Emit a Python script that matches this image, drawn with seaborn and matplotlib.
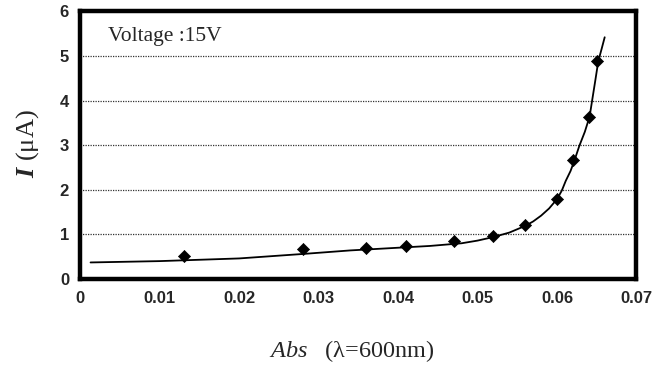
import matplotlib.pyplot as plt
import pandas as pd
import seaborn as sns

# measured points
abs_pts = [0.013, 0.028, 0.036, 0.041, 0.047, 0.052, 0.056, 0.060, 0.062, 0.064, 0.065]
cur_pts = [0.51, 0.67, 0.69, 0.75, 0.84, 0.97, 1.20, 1.79, 2.66, 3.64, 4.89]

# fitted curve
abs_fit = [0.0013, 0.01, 0.02, 0.028, 0.034, 0.04, 0.044, 0.048, 0.050, 0.052,
           0.054, 0.056, 0.057, 0.058, 0.059, 0.0600, 0.0606, 0.0611, 0.0617,
           0.0622, 0.0628, 0.0635, 0.0641, 0.0644, 0.0648, 0.0652, 0.0656, 0.0660]
cur_fit = [0.37, 0.40, 0.46, 0.56, 0.64, 0.70, 0.74, 0.80, 0.86, 0.94,
           1.04, 1.19, 1.29, 1.42, 1.58, 1.79, 1.98, 2.2, 2.42,
           2.66, 2.98, 3.3, 3.64, 3.98, 4.43, 4.89, 5.15, 5.42]

x_ticks = [0, 0.01, 0.02, 0.03, 0.04, 0.05, 0.06, 0.07]
x_tick_labels = ['0', '0.01', '0.02', '0.03', '0.04', '0.05', '0.06', '0.07']
y_ticks = [0, 1, 2, 3, 4, 5, 6]

sns.set_theme(style='white')
plt.rcParams['font.family'] = ['Liberation Sans', 'DejaVu Sans']
plt.rcParams['mathtext.fontset'] = 'custom'
plt.rcParams['mathtext.rm'] = 'Liberation Serif'
plt.rcParams['mathtext.it'] = 'Liberation Serif:italic'
plt.rcParams['mathtext.bf'] = 'Liberation Serif:bold:italic'

pts = pd.DataFrame({'Abs': abs_pts, 'I': cur_pts})
fit = pd.DataFrame({'Abs': abs_fit, 'I': cur_fit})

fig = plt.figure(figsize=(6.63, 3.68), dpi=100)
ax = fig.add_axes([0.121, 0.242, 0.839, 0.727])

sns.lineplot(data=fit, x='Abs', y='I', color='black', linewidth=1.3, ax=ax)
sns.scatterplot(data=pts, x='Abs', y='I', marker='D', color='black', s=38,
                edgecolor='black', zorder=3, ax=ax)

ax.set_xlim(0, 0.07)
ax.set_ylim(0, 6)
ax.set_xticks(x_ticks)
ax.set_xticklabels(x_tick_labels)
ax.set_yticks(y_ticks)
ax.tick_params(axis='x', direction='in', length=4, width=1, color='black',
               pad=9, labelsize=12)
ax.tick_params(axis='y', length=0, pad=8, labelsize=12)
for lab in ax.get_xticklabels() + ax.get_yticklabels():
    lab.set_fontweight('bold')

ax.grid(False)
for yv in y_ticks[1:-1]:
    ax.axhline(yv, color='#333333', linestyle=(0, (1, 1)), linewidth=0.9, zorder=1)

for sp in ax.spines.values():
    sp.set_linewidth(3.2)
    sp.set_color('black')

ax.text(0.0035, 5.43, 'Voltage :15V', family='Liberation Serif', fontsize=15.5,
        va='center', ha='left')

ax.set_xlabel(r'$\mathit{Abs}$   (λ=600nm)', fontsize=17.5,
              family='Liberation Serif', va='center')
ax.xaxis.set_label_coords(0.488, -0.268)
ax.set_ylabel(r'$\mathbf{I}$ (μA)', fontsize=19,
              family='Liberation Serif', va='center')
ax.yaxis.set_label_coords(-0.095, 0.506)

fig.savefig('out.png', dpi=100)
